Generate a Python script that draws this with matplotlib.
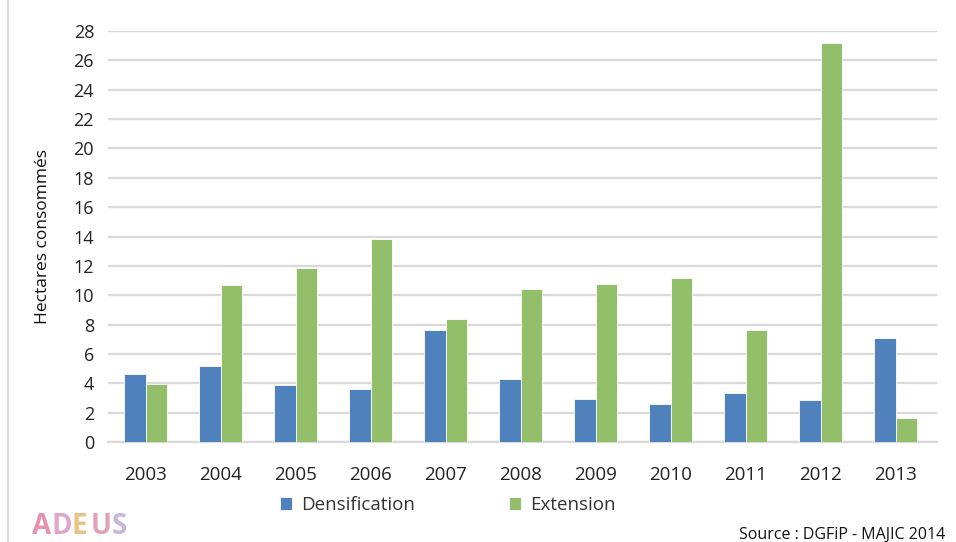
import matplotlib
matplotlib.use("Agg")
import matplotlib.pyplot as plt
import numpy as np

years = ["2003", "2004", "2005", "2006", "2007", "2008", "2009", "2010", "2011", "2012", "2013"]
densification = [4.6, 5.15, 3.9, 3.6, 7.6, 4.3, 2.95, 2.6, 3.35, 2.85, 7.1]
extension = [3.95, 10.7, 11.85, 13.85, 8.4, 10.4, 10.75, 11.2, 7.65, 27.2, 1.65]
yticks = list(range(0, 29, 2))

plt.rcParams['font.family'] = ['Open Sans', 'DejaVu Sans']

W, H = 956, 542
fig = plt.figure(figsize=(W / 100, H / 100), dpi=100)
ax = fig.add_axes([108 / W, 1 - 442 / H, (937 - 108) / W, (442 - 31) / H])

x = np.arange(len(years))
bw = 0.29
blue = "#4f81bd"
green = "#93be6a"
ax.bar(x - bw / 2, densification, bw, color=blue, edgecolor="white", linewidth=0.6, label="Densification", zorder=3)
ax.bar(x + bw / 2, extension, bw, color=green, edgecolor="white", linewidth=0.6, label="Extension", zorder=3)

ax.set_xlim(-0.5, len(years) - 0.45)
ax.set_ylim(0, 28)
ax.set_yticks(yticks)
ax.set_yticklabels([str(v) for v in yticks], fontsize=13, color="#222222")
ax.set_xticks(x)
ax.set_xticklabels(years, fontsize=13.5, color="#222222")
ax.tick_params(axis="both", length=0)
ax.tick_params(axis="x", pad=17)
ax.tick_params(axis="y", pad=10)
ax.grid(axis="y", color="#d9d9d9", linewidth=1.6, zorder=0)
for s in ["top", "right", "left"]:
    ax.spines[s].set_visible(False)
ax.spines["bottom"].set_color("#d9d9d9")
ax.spines["bottom"].set_linewidth(1.6)

ax.set_ylabel("Hectares consommés", fontsize=12.5, color="#111111")
ax.yaxis.set_label_coords(-57 / (937 - 108), 0.5)

leg = fig.legend(loc="center", bbox_to_anchor=(448 / W, 1 - 505 / H), ncol=2, frameon=False,
                 fontsize=13.5, handlelength=0.65, handleheight=0.65, columnspacing=5.0, handletextpad=0.5)
for t in leg.get_texts():
    t.set_color("#333333")

fig.text(945 / W, 1 - 535 / H, "Source : DGFiP - MAJIC 2014", ha="right", va="center", fontsize=11.5, color="#111111")

# ADEUS logo
letters = ["A", "D", "E", "U", "S"]
lcolors = ["#e07fa0", "#d898c8", "#e8b870", "#dd90a4", "#c0a8d8"]
xpos = [32, 51, 72, 91, 112]
for ch, c, px in zip(letters, lcolors, xpos):
    fig.text(px / W, 1 - 526 / H, ch, fontsize=20, color=c, fontweight="bold", ha="left", va="center", alpha=0.85)

# left border line
fig.add_artist(plt.Line2D([8 / W, 8 / W], [0, 1], color="#dddddd", linewidth=1.5))

fig.savefig("out.png", dpi=100)
